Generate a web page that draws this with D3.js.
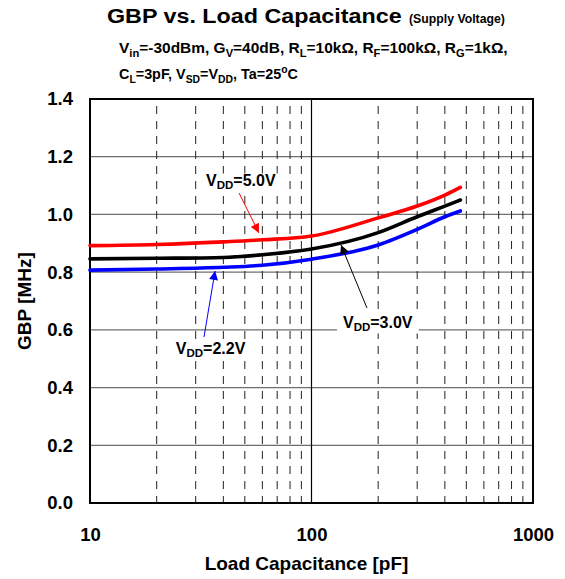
<!DOCTYPE html>
<html>
<head>
<meta charset="utf-8">
<script src="https://cdn.jsdelivr.net/npm/d3@7"></script>
<style>
  html, body { margin: 0; padding: 0; background: #fff; }
  svg { display: block; font-family: "Liberation Sans", Arial, sans-serif; font-weight: bold; }
</style>
</head>
<body>
<svg id="chart" width="565" height="579"></svg>
<script>
// ---- data ----
const capacitance = [10, 20, 40, 60, 100, 200, 300, 400, 470];       // pF
const gbp5V0 = [0.892, 0.896, 0.905, 0.912, 0.925, 0.988, 1.029, 1.067, 1.094]; // MHz
const gbp3V0 = [0.846, 0.848, 0.851, 0.860, 0.880, 0.937, 0.992, 1.029, 1.050];
const gbp2V2 = [0.807, 0.811, 0.817, 0.824, 0.845, 0.894, 0.948, 0.992, 1.012];
const seriesNames = ["5.0V", "3.0V", "2.2V"];
const seriesColors = ["#ff0000", "#000000", "#0000ff"];
const yTicks = [0, 0.2, 0.4, 0.6, 0.8, 1.0, 1.2, 1.4];
const xTicks = [10, 100, 1000];
const xMinor = [20, 30, 40, 50, 60, 70, 80, 90, 200, 300, 400, 500, 600, 700, 800, 900];
// annotation: label anchor (cap, gbp), arrow start and tip (cap, gbp)
const labelPos = [[33.4, 1.097], [138.7, 0.605], [24.4, 0.516]];
const arrowFrom = [[47.1, 1.074], [178, 0.676], [32.7, 0.575]];
const arrowTo = [[57.9, 0.936], [135.9, 0.894], [36.7, 0.804]];

const svg = d3.select("#chart");
const margin = { left: 90, right: 32, top: 99, bottom: 76 };
const W = 565, H = 579;
const x = d3.scaleLog().domain([10, 1000]).range([margin.left, W - margin.right]);
const y = d3.scaleLinear().domain([0, 1.4]).range([H - margin.bottom, margin.top]);

// ---- header ----
function stretchTo(sel, x0, y0, width) {
  const w = sel.node().getBBox().width;
  sel.attr("transform", `translate(${x0},${y0}) scale(${width / w},1)`);
}
const title = svg.append("text").attr("font-size", 19.5).text("GBP vs. Load Capacitance");
stretchTo(title, 107, 23, 295);
const titleSub = svg.append("text").attr("font-size", 12.5).text("(Supply Voltage)");
stretchTo(titleSub, 409, 23, 96);

function richText(parts, size) {
  const t = svg.append("text").attr("font-size", size);
  let shift = 0;
  parts.forEach(p => {
    let target = 0;
    if (p.sub) target = size * 0.25;
    if (p.sup) target = -size * 0.4;
    const ts = t.append("tspan").text(p.t).attr("dy", target - shift);
    if (p.sub || p.sup) ts.attr("font-size", size * 0.72);
    shift = target;
  });
  return t;
}
const sub1 = richText([
  { t: "V" }, { t: "in", sub: 1 }, { t: "=-30dBm, G" }, { t: "V", sub: 1 }, { t: "=40dB, R" },
  { t: "L", sub: 1 }, { t: "=10kΩ, R" }, { t: "F", sub: 1 }, { t: "=100kΩ, R" }, { t: "G", sub: 1 }, { t: "=1kΩ," }
], 14);
stretchTo(sub1, 119, 53, 389);
const sub2 = richText([
  { t: "C" }, { t: "L", sub: 1 }, { t: "=3pF, V" }, { t: "SD", sub: 1 }, { t: "=V" }, { t: "DD", sub: 1 },
  { t: ", Ta=25" }, { t: "o", sup: 1 }, { t: "C" }
], 14);
stretchTo(sub2, 119, 79, 179);

// ---- grid ----
const grid = svg.append("g");
grid.selectAll("line.h").data(yTicks.filter(d => d > 0 && d < 1.4)).join("line")
  .attr("x1", x(10)).attr("x2", x(1000)).attr("y1", d => y(d)).attr("y2", d => y(d))
  .attr("stroke", "#6e6e6e").attr("stroke-width", 1.3);
grid.selectAll("line.v").data(xMinor).join("line")
  .attr("x1", d => x(d)).attr("x2", d => x(d)).attr("y1", y(1.4)).attr("y2", y(0))
  .attr("stroke", "#222").attr("stroke-width", 1).attr("stroke-dasharray", "8,7")
  .attr("stroke-dashoffset", -7);
grid.append("line").attr("x1", x(100)).attr("x2", x(100)).attr("y1", y(1.4)).attr("y2", y(0))
  .attr("stroke", "#000").attr("stroke-width", 1.2);

// ---- frame ----
svg.append("rect").attr("x", x(10)).attr("y", y(1.4))
  .attr("width", x(1000) - x(10)).attr("height", y(0) - y(1.4))
  .attr("fill", "none").attr("stroke", "#000").attr("stroke-width", 2);

// ---- axes ----
const yAxis = svg.append("g").attr("transform", `translate(${x(10)},0)`)
  .call(d3.axisLeft(y).tickValues(yTicks).tickFormat(d3.format(".1f")).tickSize(0).tickPadding(17));
const xAxis = svg.append("g").attr("transform", `translate(0,${y(0)})`)
  .call(d3.axisBottom(x).tickValues(xTicks).tickFormat(d3.format("d")).tickSize(0).tickPadding(25));
[yAxis, xAxis].forEach(a => {
  a.select(".domain").remove();
  a.selectAll("text").attr("font-size", 18.5).attr("font-weight", "bold")
    .attr("font-family", "Liberation Sans, Arial, sans-serif").attr("fill", "#000");
});

svg.append("text").attr("text-anchor", "middle").attr("font-size", 19)
  .attr("x", (x(10) + x(1000)) / 2 - 5).attr("y", 570).text("Load Capacitance [pF]");
svg.append("text").attr("text-anchor", "middle").attr("font-size", 19)
  .attr("transform", `translate(31,${y(0.7)}) rotate(-90)`).text("GBP [MHz]");

// ---- curves ----
const series = [gbp5V0, gbp3V0, gbp2V2];
const line = d3.line().x(d => x(d[0])).y(d => y(d[1])).curve(d3.curveMonotoneX);
series.forEach((vals, i) => {
  svg.append("path").datum(capacitance.map((c, k) => [c, vals[k]]))
    .attr("d", line).attr("fill", "none").attr("stroke", seriesColors[i])
    .attr("stroke-width", 3.6).attr("stroke-linecap", "round");
});

// ---- annotations ----
const defs = svg.append("defs");
seriesColors.forEach((c, i) => {
  defs.append("marker").attr("id", "ah" + i).attr("viewBox", "0 0 10 10")
    .attr("refX", 10).attr("refY", 5).attr("markerWidth", 11).attr("markerHeight", 9)
    .attr("markerUnits", "userSpaceOnUse").attr("orient", "auto")
    .append("path").attr("d", "M0,0 L10,5 L0,10 Z").attr("fill", c);
});
seriesNames.forEach((name, i) => {
  const [lx, ly] = labelPos[i];
  const t = svg.append("text").attr("font-size", 16).attr("x", x(lx)).attr("y", y(ly));
  t.append("tspan").text("V");
  t.append("tspan").attr("font-size", 11.5).attr("dy", 3).text("DD");
  t.append("tspan").attr("dy", -3).text("=" + name);
  const bb = t.node().getBBox();
  svg.insert("rect", () => t.node()).attr("x", bb.x - 6).attr("y", bb.y + 1)
    .attr("width", bb.width + 12).attr("height", bb.height - 1).attr("fill", "#fff");
  svg.append("line")
    .attr("x1", x(arrowFrom[i][0])).attr("y1", y(arrowFrom[i][1]))
    .attr("x2", x(arrowTo[i][0])).attr("y2", y(arrowTo[i][1]))
    .attr("stroke", seriesColors[i]).attr("stroke-width", 1)
    .attr("marker-end", `url(#ah${i})`);
});
</script>
</body>
</html>
